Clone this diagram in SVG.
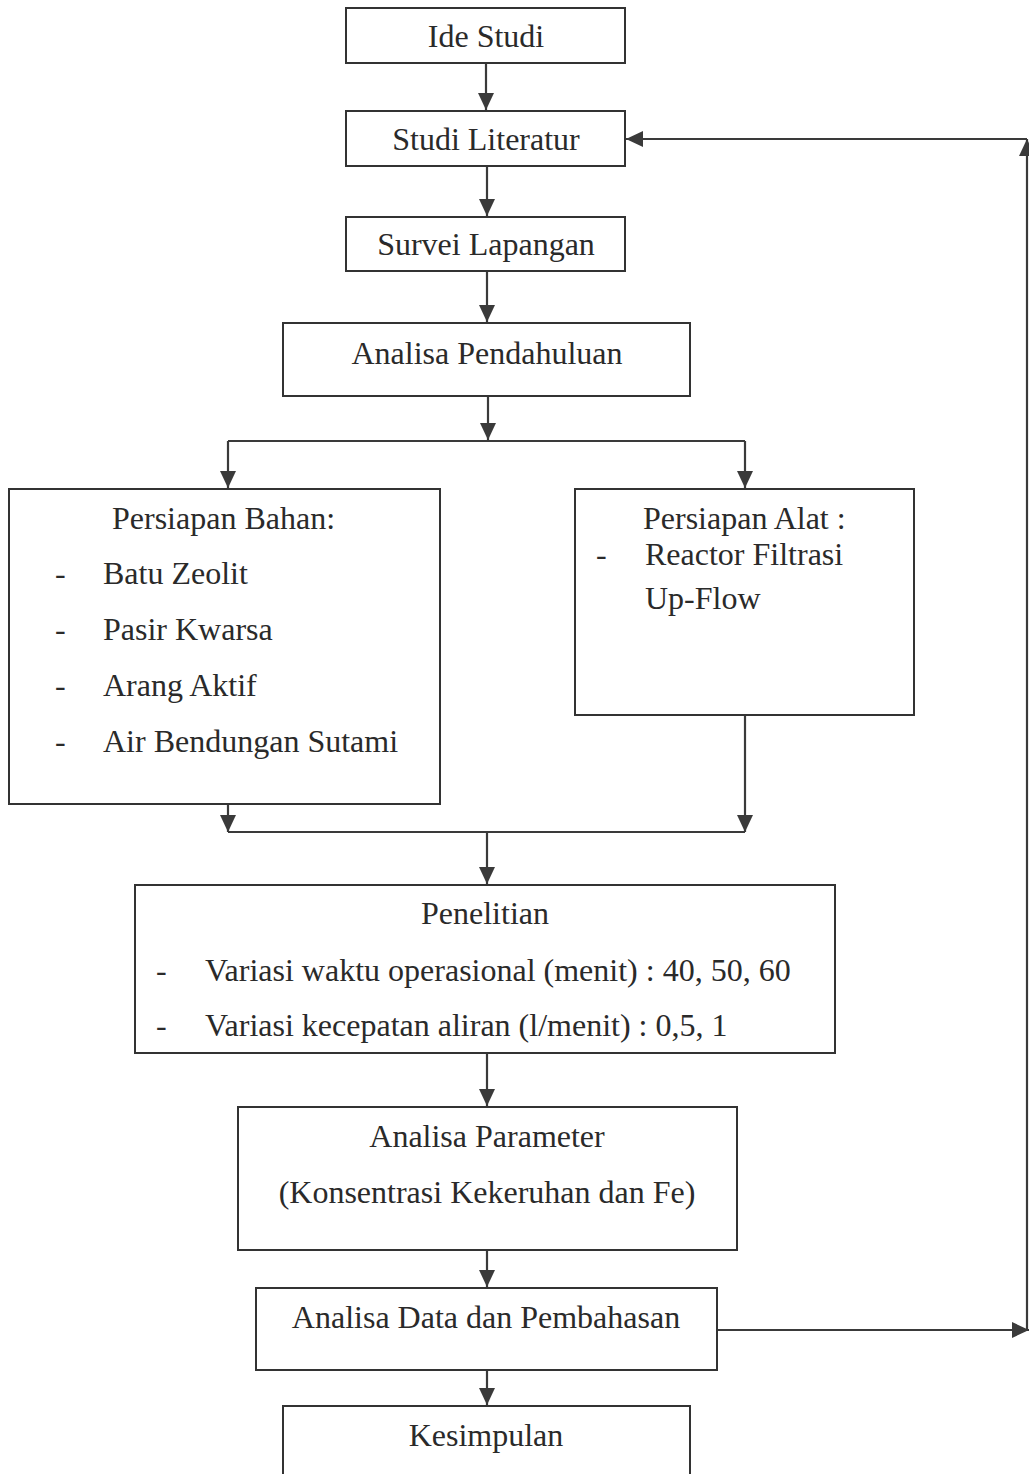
<svg xmlns="http://www.w3.org/2000/svg" width="1029" height="1474" viewBox="0 0 1029 1474">
<style>
.box{fill:#fff;stroke:#333;stroke-width:2}
.t{font-family:"Liberation Serif","Times New Roman",serif;font-size:32px;fill:#2a2a2a}
.c{text-anchor:middle}
.ln{fill:none;stroke:#3a3a3a;stroke-width:2.2}
</style>
<defs>
<marker id="ah" viewBox="0 0 17 16" refX="17" refY="8" markerWidth="17" markerHeight="16" markerUnits="userSpaceOnUse" orient="auto">
<path d="M0,0 L17,8 L0,16 Z" fill="#3a3a3a"/>
</marker>
</defs>
<rect width="1029" height="1474" fill="#fff"/>
<g id="connectors">
<line class="ln" x1="486" y1="63" x2="486" y2="110" marker-end="url(#ah)"/>
<line class="ln" x1="487" y1="166" x2="487" y2="216" marker-end="url(#ah)"/>
<line class="ln" x1="487" y1="271" x2="487" y2="322" marker-end="url(#ah)"/>
<line class="ln" x1="488" y1="396" x2="488" y2="440" marker-end="url(#ah)"/>
<line class="ln" x1="228" y1="441" x2="745" y2="441"/>
<line class="ln" x1="228" y1="441" x2="228" y2="488" marker-end="url(#ah)"/>
<line class="ln" x1="745" y1="441" x2="745" y2="488" marker-end="url(#ah)"/>
<line class="ln" x1="228" y1="804" x2="228" y2="832" marker-end="url(#ah)"/>
<line class="ln" x1="745" y1="715" x2="745" y2="832" marker-end="url(#ah)"/>
<line class="ln" x1="228" y1="832" x2="745" y2="832"/>
<line class="ln" x1="487" y1="832" x2="487" y2="884" marker-end="url(#ah)"/>
<line class="ln" x1="487" y1="1053" x2="487" y2="1106" marker-end="url(#ah)"/>
<line class="ln" x1="487" y1="1250" x2="487" y2="1287" marker-end="url(#ah)"/>
<line class="ln" x1="487" y1="1370" x2="487" y2="1405" marker-end="url(#ah)"/>
<line class="ln" x1="717" y1="1330" x2="1029" y2="1330" marker-end="url(#ah)"/>
<line class="ln" x1="1027" y1="1330" x2="1027" y2="139" marker-end="url(#ah)"/>
<line class="ln" x1="1027" y1="139" x2="626" y2="139" marker-end="url(#ah)"/>
</g>
<g id="ide-studi">
<rect class="box" x="346" y="8" width="279" height="55"/>
<text class="t c" x="486" y="47">Ide Studi</text>
</g>
<g id="studi-literatur">
<rect class="box" x="346" y="111" width="279" height="55"/>
<text class="t c" x="486" y="150">Studi Literatur</text>
</g>
<g id="survei-lapangan">
<rect class="box" x="346" y="217" width="279" height="54"/>
<text class="t c" x="486" y="255">Survei Lapangan</text>
</g>
<g id="analisa-pendahuluan">
<rect class="box" x="283" y="323" width="407" height="73"/>
<text class="t c" x="487" y="364">Analisa Pendahuluan</text>
</g>
<g id="persiapan-bahan">
<rect class="box" x="9" y="489" width="431" height="315"/>
<text class="t" x="112" y="529">Persiapan Bahan:</text>
<text class="t" x="55" y="584">-</text><text class="t" x="103" y="584">Batu Zeolit</text>
<text class="t" x="55" y="640">-</text><text class="t" x="103" y="640">Pasir Kwarsa</text>
<text class="t" x="55" y="696">-</text><text class="t" x="103" y="696">Arang Aktif</text>
<text class="t" x="55" y="752">-</text><text class="t" x="103" y="752">Air Bendungan Sutami</text>
</g>
<g id="persiapan-alat">
<rect class="box" x="575" y="489" width="339" height="226"/>
<text class="t" x="643" y="529">Persiapan Alat :</text>
<text class="t" x="596" y="565">-</text><text class="t" x="645" y="565">Reactor Filtrasi</text>
<text class="t" x="645" y="609">Up-Flow</text>
</g>
<g id="penelitian">
<rect class="box" x="135" y="885" width="700" height="168"/>
<text class="t c" x="485" y="924">Penelitian</text>
<text class="t" x="156" y="981">-</text><text class="t" x="205" y="981">Variasi waktu operasional (menit) : 40, 50, 60</text>
<text class="t" x="156" y="1036">-</text><text class="t" x="205" y="1036">Variasi kecepatan aliran (l/menit) : 0,5, 1</text>
</g>
<g id="analisa-parameter">
<rect class="box" x="238" y="1107" width="499" height="143"/>
<text class="t c" x="487" y="1147">Analisa Parameter</text>
<text class="t c" x="487" y="1203">(Konsentrasi Kekeruhan dan Fe)</text>
</g>
<g id="analisa-data">
<rect class="box" x="256" y="1288" width="461" height="82"/>
<text class="t c" x="486" y="1328">Analisa Data dan Pembahasan</text>
</g>
<g id="kesimpulan">
<rect class="box" x="283" y="1406" width="407" height="80"/>
<text class="t c" x="486" y="1446">Kesimpulan</text>
</g>
</svg>
